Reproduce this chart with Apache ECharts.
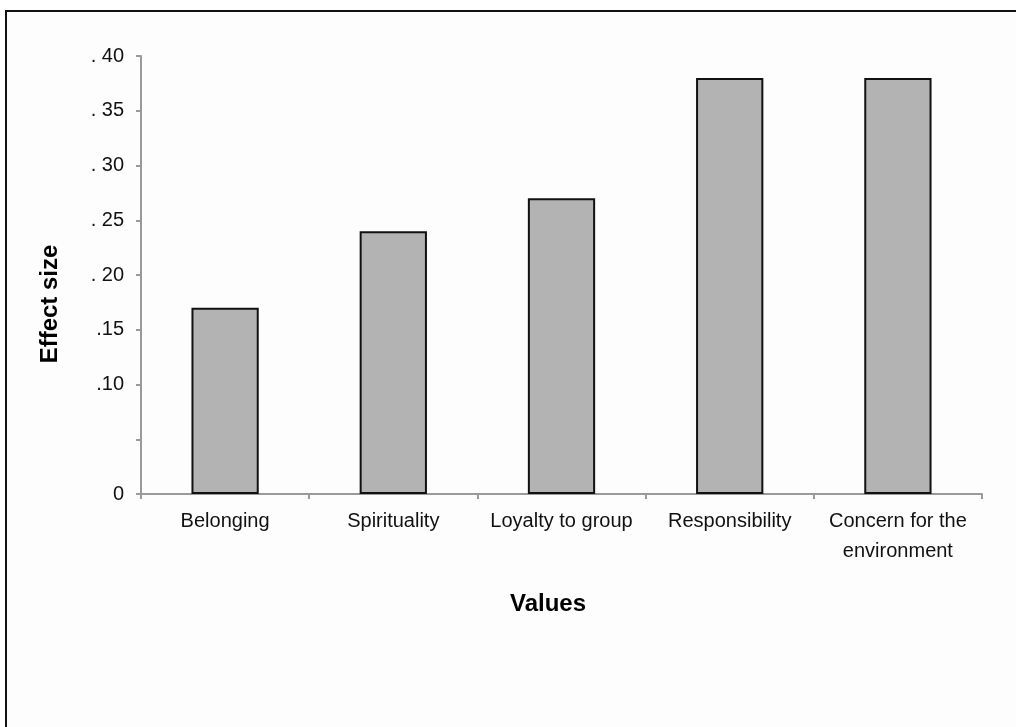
<!DOCTYPE html>
<html>
<head>
<meta charset="utf-8">
<script src="https://cdn.jsdelivr.net/npm/echarts@6/dist/echarts.min.js"></script>
<style>
  html, body { margin: 0; padding: 0; background: #ffffff; }
  #frame {
    position: absolute; left: 5px; top: 10px; width: 1011px; height: 717px;
    border-left: 2px solid #111; border-top: 2px solid #111;
    background: #fdfdfd; box-sizing: border-box;
  }
  #myChart { position: absolute; left: 0; top: 0; width: 1016px; height: 727px; }
</style>
</head>
<body>
<div id="frame"></div>
<div id="myChart"></div>
<script>
// data
var categories = ['Belonging', 'Spirituality', 'Loyalty to group', 'Responsibility', 'Concern for the\nenvironment']
var effectSizes = [0.17, 0.24, 0.27, 0.38, 0.38]
// tick label text as printed in the original (0.05 has no label)
var tickLabels = { '0': '0', '0.05': '', '0.1': '.10', '0.15': '.15', '0.2': '. 20', '0.25': '. 25', '0.3': '. 30', '0.35': '. 35', '0.4': '. 40' }

var myChart = echarts.init(document.getElementById('myChart'))
var fontFam = '"Liberation Sans", Arial, Helvetica, sans-serif'

var option = {
  animation: false,
  grid: {
    left: 141,
    right: 34,
    top: 56,
    bottom: 233,
  },
  xAxis: {
    type: 'category',
    data: categories,
    axisLine: { lineStyle: { color: '#9a9a9a', width: 2 } },
    axisTick: { show: true, length: 5, alignWithLabel: false, lineStyle: { color: '#9a9a9a', width: 2 } },
    axisLabel: {
      color: '#111',
      fontSize: 20,
      fontFamily: fontFam,
      margin: 12,
      lineHeight: 30,
      interval: 0,
    },
  },
  yAxis: {
    type: 'value',
    min: 0,
    max: 0.4,
    interval: 0.05,
    splitLine: { show: false },
    axisLine: { show: true, lineStyle: { color: '#9a9a9a', width: 2 } },
    axisTick: { show: true, length: 5, lineStyle: { color: '#9a9a9a', width: 2 } },
    axisLabel: {
      color: '#111',
      fontSize: 20,
      fontFamily: fontFam,
      margin: 17,
      formatter: function (v) {
        var key = String(Math.round(v * 100) / 100)
        return tickLabels[key] !== undefined ? tickLabels[key] : ''
      },
    },
  },
  series: [
    {
      type: 'bar',
      data: effectSizes,
      barCategoryGap: '60%',
      itemStyle: {
        color: '#b3b3b3',
        borderColor: '#111',
        borderWidth: 2,
      },
    },
  ],
  graphic: [
    {
      type: 'text',
      rotation: Math.PI / 2,
      x: 50,
      y: 304,
      style: {
        text: 'Effect size',
        font: 'bold 24px ' + fontFam,
        fill: '#000',
        textAlign: 'center',
        textVerticalAlign: 'middle',
      },
    },
    {
      type: 'text',
      x: 548,
      y: 604,
      style: {
        text: 'Values',
        font: 'bold 24px ' + fontFam,
        fill: '#000',
        textAlign: 'center',
        textVerticalAlign: 'middle',
      },
    },
  ],
}
myChart.setOption(option)
</script>
</body>
</html>
